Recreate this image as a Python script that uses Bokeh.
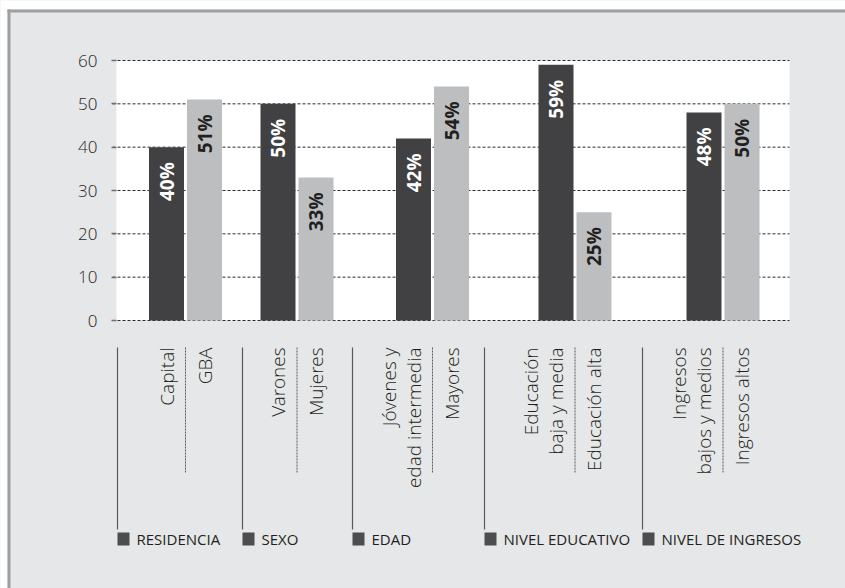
import math

from bokeh.core.properties import value
from bokeh.embed import file_html
from bokeh.models import FixedTicker, Range1d
from bokeh.plotting import figure
from bokeh.resources import INLINE

# ---- data -------------------------------------------------------------
groups = ["RESIDENCIA", "SEXO", "EDAD", "NIVEL EDUCATIVO", "NIVEL DE INGRESOS"]
first_labels = ["Capital", "Varones", "Jóvenes y\nedad intermedia",
                "Educación\nbaja y media", "Ingresos\nbajos y medios"]
second_labels = ["GBA", "Mujeres", "Mayores", "Educación alta", "Ingresos altos"]
first_values = [40, 50, 42, 59, 48]
second_values = [51, 33, 54, 25, 50]
y_ticks = [0, 10, 20, 30, 40, 50, 60]

# ---- layout (x in canvas pixels, plot area rows 60..320) ---------------
W, H = 845, 588
PLOT_L, PLOT_R, PLOT_T, PLOT_B = 116, 789, 60, 320
Y_MAX = 60
pair_center = [185, 296.5, 432, 574.5, 722.5]
group_left = [117, 242, 352, 484, 642]
BAR_W = 35
HALF = 19
LINE_PITCH = 25

DARK = "#414042"
LIGHT = "#bcbec0"
INK = "#231f20"
PANEL = "#e6e7e8"
EDGE = "#9d9fa2"
FONT = value("Open Sans")
LIGHT_FONT_NAME = "Open Sans Light, Lato Light, Open Sans"
LIGHT_FONT = value(LIGHT_FONT_NAME)

PER_PX = Y_MAX / (PLOT_B - PLOT_T)


def y_at(py):
    """Canvas pixel row -> value on the y scale."""
    return (PLOT_B - py) * PER_PX


p = figure(width=W, height=H, title=None, output_backend="svg",
           toolbar_location=None, x_axis_type=None,
           x_range=Range1d(0, W), y_range=Range1d(y_at(H), y_at(0)),
           min_border_left=0, min_border_right=0,
           min_border_top=0, min_border_bottom=0)
p.background_fill_color = PANEL
p.border_fill_color = PANEL
p.outline_line_color = None
p.xgrid.visible = False
p.ygrid.visible = False

# panel frame: white margin and grey edge on top/left
p.quad(left=[0, 0, 7, 7], right=[W, 7, W, 10],
       top=[y_at(0), y_at(0), y_at(9), y_at(9)],
       bottom=[y_at(9), y_at(H), y_at(12), y_at(H)],
       fill_color=["white", "white", EDGE, EDGE], line_color=None)

# white plot area
p.quad(left=PLOT_L, right=PLOT_R, bottom=0, top=Y_MAX,
       fill_color="white", line_color=None)

# dashed value grid
p.segment(x0=PLOT_L - 4, x1=PLOT_R, y0=y_ticks, y1=y_ticks,
          line_color="#2b2b2b", line_dash="3 2", line_width=1)

# y axis pinned at the plot's left edge
ax = p.yaxis[0]
ax.fixed_location = PLOT_L
ax.ticker = FixedTicker(ticks=y_ticks)
ax.axis_line_color = None
ax.minor_tick_line_color = None
ax.major_tick_in = 0
ax.major_tick_out = 5
ax.major_tick_line_color = "#6d6e71"
ax.major_tick_line_width = 1.5
ax.major_label_standoff = 14
ax.major_label_text_font = LIGHT_FONT_NAME
ax.major_label_text_font_size = "17px"
ax.major_label_text_color = "#2b2b2b"

# bars
x_first = [c - HALF for c in pair_center]
x_second = [c + HALF for c in pair_center]
p.vbar(x=x_first, top=first_values, bottom=0, width=BAR_W,
       fill_color=DARK, line_color=None)
p.vbar(x=x_second, top=second_values, bottom=0, width=BAR_W,
       fill_color=LIGHT, line_color=None)

# value labels inside the bars
common = dict(angle=math.pi / 2, text_align="right", text_baseline="middle",
              text_font=FONT, text_font_style="bold", text_font_size="19px")
p.text(x=x_first, y=[v - 15 * PER_PX for v in first_values],
       text=[f"{v}%" for v in first_values], text_color="white", **common)
p.text(x=x_second, y=[v - 15 * PER_PX for v in second_values],
       text=[f"{v}%" for v in second_values], text_color=INK, **common)

# category labels under the axis (last line centred on its bar)
cx, cy, ct = [], [], []
for xs, labels in ((x_first, first_labels), (x_second, second_labels)):
    for x, lab in zip(xs, labels):
        lines = lab.split("\n")
        n = len(lines)
        for i, line in enumerate(lines):
            cx.append(x - (n - 1 - i) * LINE_PITCH)
            cy.append(y_at(347))
            ct.append(line)
p.text(x=cx, y=cy, text=ct, angle=math.pi / 2, text_align="right",
       text_baseline="middle", text_font=LIGHT_FONT, text_font_size="19px",
       text_color=INK)

# solid group separators and dotted pair separators
p.segment(x0=group_left, x1=group_left, y0=y_at(347), y1=y_at(529),
          line_color="#58595b", line_width=1.2)
p.segment(x0=pair_center, x1=pair_center, y0=y_at(347), y1=y_at(473),
          line_color="#58595b", line_width=1, line_dash="2 1")

# group legend: square + caption
p.quad(left=group_left, right=[g + 12 for g in group_left],
       top=y_at(532), bottom=y_at(545), fill_color="#4d4d4f", line_color=None)
p.text(x=[g + 19 for g in group_left], y=y_at(538.5), text=groups,
       text_align="left", text_baseline="middle", text_font=FONT,
       text_font_size="15px", text_color=INK)

open("out.html", "w").write(file_html(p, INLINE))
